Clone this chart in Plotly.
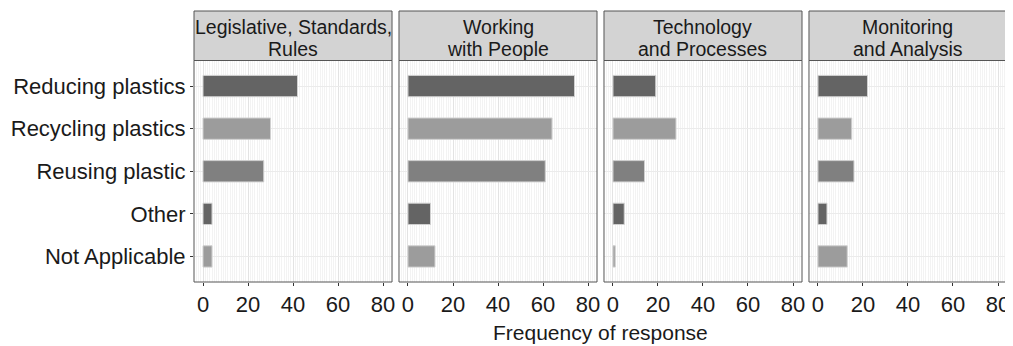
import plotly.graph_objects as go

# ---- data ----
categories = ["Reducing plastics", "Recycling plastics", "Reusing plastic", "Other", "Not Applicable"]
panel_line1 = ["Legislative, Standards,", "Working", "Technology", "Monitoring"]
panel_line2 = ["Rules", "with People", "and Processes", "and Analysis"]
legislative = [42, 30, 27, 4, 4]
working = [74, 64, 61, 10, 12]
technology = [19, 28, 14, 5, 1]
monitoring = [22, 15, 16, 4, 13]
bar_colors = ["#646464", "#9c9c9c", "#808080", "#646464", "#9c9c9c"]
x_ticks = [0, 20, 40, 60, 80]
x_title = "Frequency of response"

series = [legislative, working, technology, monitoring]

# page body has an 8px margin; lay the figure out in reference pixels shifted by it
OFF = 8
W, H = 1013 - OFF, 346 - OFF
ML, MR = 192 - OFF, 5
MT = 11 - OFF
MB = H - (282 - OFF)
PW = W - ML - MR
PH = H - MT - MB
panel_top_ref = 60.5

def px_x(p_ref):
    return (p_ref - OFF - ML) / PW

def px_y(p_ref):
    return (H - MB - (p_ref - OFF)) / PH

gap = 7
pwidth = (PW - 3 * gap) / 4
ytop = px_y(panel_top_ref)

fig = go.Figure()
FONT = "Liberation Sans, Arial, sans-serif"

for i, vals in enumerate(series):
    xa = "x" if i == 0 else f"x{i+1}"
    fig.add_trace(go.Bar(
        x=vals, y=categories, orientation="h",
        marker=dict(color=bar_colors, line=dict(color="#d0d0d0", width=1)),
        width=0.5, xaxis=xa, yaxis="y", showlegend=False,
    ))

layout = dict(
    width=W, height=H,
    margin=dict(l=ML, r=MR, t=MT, b=MB),
    paper_bgcolor="white", plot_bgcolor="white",
    font=dict(family=FONT, color="#1a1a1a"),
    yaxis=dict(
        domain=[0, ytop],
        categoryorder="array", categoryarray=categories,
        range=[4.6, -0.6],
        showgrid=True, gridcolor="#ebebeb", gridwidth=1,
        ticks="outside", ticklen=3, tickcolor="#333333",
        tickfont=dict(size=22, color="#1a1a1a", family=FONT),
        showline=False, zeroline=False,
    ),
)

shapes = []
annotations = []
for i in range(4):
    left_px = 192 + i * (pwidth + gap)
    d0 = px_x(left_px)
    d1 = px_x(left_px + pwidth)
    key = "xaxis" if i == 0 else f"xaxis{i+1}"
    layout[key] = dict(
        domain=[d0, d1], anchor="y", range=[-4, 84],
        tickvals=x_ticks, ticktext=[str(t) for t in x_ticks],
        showgrid=True, gridcolor="#e3e3e3", gridwidth=1,
        minor=dict(dtick=1, showgrid=True, gridcolor="#f3f3f3", gridwidth=1),
        ticks="outside", ticklen=3, tickcolor="#333333",
        tickfont=dict(size=22, color="#1a1a1a", family=FONT),
        zeroline=False, showline=False,
    )
    shapes.append(dict(type="rect", xref="paper", yref="paper",
                       x0=d0, x1=d1, y0=0, y1=ytop,
                       line=dict(color="#555555", width=1), fillcolor="rgba(0,0,0,0)", layer="above"))
    shapes.append(dict(type="rect", xref="paper", yref="paper",
                       x0=d0, x1=d1, y0=ytop, y1=1.0,
                       line=dict(color="#555555", width=1), fillcolor="#d3d3d3", layer="above"))
    cx = (d0 + d1) / 2
    annotations.append(dict(text=panel_line1[i], x=cx, y=px_y(26.5), xref="paper", yref="paper",
                            xanchor="center", yanchor="middle", showarrow=False,
                            font=dict(size=19.5, color="#1a1a1a", family=FONT)))
    annotations.append(dict(text=panel_line2[i], x=cx, y=px_y(48.5), xref="paper", yref="paper",
                            xanchor="center", yanchor="middle", showarrow=False,
                            font=dict(size=19.5, color="#1a1a1a", family=FONT)))

annotations.append(dict(text=x_title, x=px_x(600), y=px_y(333), xref="paper", yref="paper",
                        xanchor="center", yanchor="middle", showarrow=False,
                        font=dict(size=21, color="#1a1a1a", family=FONT)))

layout["shapes"] = shapes
layout["annotations"] = annotations
fig.update_layout(**layout)

fig.write_html("out.html")
